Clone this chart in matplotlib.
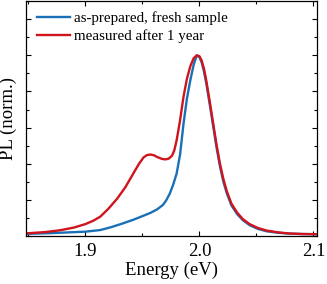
import matplotlib
matplotlib.use('Agg')
import matplotlib.pyplot as plt
from matplotlib.ticker import MultipleLocator, NullFormatter, FormatStrFormatter

# -- data (energy in eV, PL normalised)
e_fresh = [1.849, 1.870, 1.900, 1.913, 1.922, 1.932, 1.942, 1.950, 1.957, 1.963,
           1.968, 1.971, 1.974, 1.977, 1.980, 1.983, 1.986, 1.989, 1.992, 1.995,
           1.9977, 2.000, 2.002, 2.004, 2.006, 2.009, 2.012, 2.015, 2.018, 2.021,
           2.024, 2.028, 2.033, 2.038, 2.044, 2.051, 2.059, 2.069, 2.079, 2.090, 2.103]
pl_fresh = [0.012, 0.016, 0.024, 0.033, 0.048, 0.068, 0.090, 0.110, 0.128, 0.148,
            0.172, 0.199, 0.235, 0.285, 0.346, 0.450, 0.620, 0.760, 0.862, 0.950,
            1.000, 0.990, 0.960, 0.910, 0.845, 0.730, 0.610, 0.490, 0.385, 0.300,
            0.236, 0.170, 0.122, 0.088, 0.060, 0.040, 0.026, 0.018, 0.013, 0.011, 0.010]

e_aged = [1.849, 1.865, 1.878, 1.890, 1.900, 1.907, 1.913, 1.920, 1.928, 1.935,
          1.942, 1.947, 1.951, 1.954, 1.957, 1.960, 1.963, 1.967, 1.970, 1.973,
          1.976, 1.978, 1.980, 1.983, 1.986, 1.989, 1.992, 1.995, 1.9977, 2.000,
          2.002, 2.004, 2.006, 2.009, 2.012, 2.015, 2.018, 2.021, 2.024, 2.028,
          2.033, 2.038, 2.044, 2.051, 2.059, 2.069, 2.079, 2.090, 2.103]
pl_aged = [0.015, 0.022, 0.032, 0.047, 0.066, 0.085, 0.107, 0.150, 0.208, 0.270,
           0.346, 0.400, 0.435, 0.448, 0.451, 0.447, 0.437, 0.427, 0.424, 0.428,
           0.445, 0.475, 0.530, 0.640, 0.770, 0.870, 0.940, 0.985, 1.000, 0.995,
           0.970, 0.925, 0.860, 0.745, 0.625, 0.505, 0.400, 0.315, 0.248, 0.180,
           0.130, 0.094, 0.066, 0.045, 0.030, 0.020, 0.014, 0.011, 0.010]

labels = ['as-prepared, fresh sample', 'measured after 1 year']
colors = ['#1a70b6', '#d0141c']

plt.rcParams['font.family'] = ['Liberation Serif', 'DejaVu Serif']

# -- set up the plot
fig = plt.figure(figsize=(3.27, 2.84), dpi=100)
ax = fig.add_axes([0.08, 0.169, 0.889, 0.827])

ax.plot(e_fresh, pl_fresh, color=colors[0], lw=1.7, label=labels[0])
ax.plot(e_aged, pl_aged, color=colors[1], lw=1.7, label=labels[1])

ax.set_xlim(1.848, 2.103)
ax.set_ylim(0, 1.3)
ax.xaxis.set_major_locator(MultipleLocator(0.1))
ax.xaxis.set_minor_locator(MultipleLocator(0.05))
ax.yaxis.set_major_locator(MultipleLocator(0.2))
ax.yaxis.set_minor_locator(MultipleLocator(0.1))
ax.yaxis.set_major_formatter(NullFormatter())
ax.xaxis.set_major_formatter(FormatStrFormatter('%.1f'))

ax.tick_params(which='both', direction='in', top=True, right=True, width=0.8)
ax.tick_params(which='major', length=3.5, labelsize=13.5, pad=5)
ax.tick_params(which='minor', length=2)
for sp in ax.spines.values():
    sp.set_linewidth(0.9)

ax.set_xlabel('Energy (eV)', fontsize=13.5, labelpad=1)
ax.set_ylabel('PL (norm.)', fontsize=13.5)
ax.yaxis.set_label_coords(-0.03, 0.5)

ax.legend(loc='upper left', frameon=False, fontsize=10.8, handlelength=2.2,
          handletextpad=0.3, borderaxespad=0.3, labelspacing=0.25)

fig.savefig('out.png', dpi=100)
